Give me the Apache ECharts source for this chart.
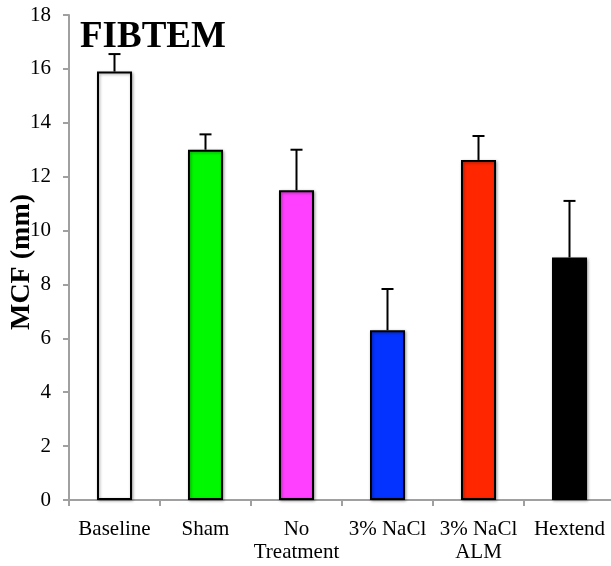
<!DOCTYPE html>
<html>
<head>
<meta charset="utf-8">
<script src="https://cdn.jsdelivr.net/npm/echarts@6/dist/echarts.min.js"></script>
<style>
  html, body { margin: 0; padding: 0; background: #fff; }
  #chart { width: 611px; height: 566px; }
</style>
</head>
<body>
<div id="chart"></div>
<script>
// FIBTEM maximum clot firmness per group, mean with upper error bar
const categories = ['Baseline', 'Sham', 'No\nTreatment', '3% NaCl', '3% NaCl\nALM', 'Hextend'];
const means = [15.9, 13.0, 11.5, 6.3, 12.62, 9.0];
const upperLimits = [16.55, 13.57, 13.0, 7.83, 13.51, 11.1];
const barColors = ['#ffffff', '#00f900', '#ff40ff', '#0433ff', '#ff2600', '#000000'];
const yTicks = { min: 0, max: 18, interval: 2 };

const serif = '"Liberation Serif", "Times New Roman", serif';

const chart = echarts.init(document.getElementById('chart'), null, { renderer: 'canvas' });

const barData = means.map((v, i) => ({
  value: v,
  itemStyle: { color: barColors[i] }
}));
const errData = means.map((v, i) => [i, v, upperLimits[i]]);

chart.setOption({
  animation: false,
  backgroundColor: '#ffffff',
  grid: {
    left: 69, top: 15, width: 546, height: 485,
    containLabel: false,
    outerBoundsMode: 'none'
  },
  graphic: [
    {
      type: 'text',
      left: 80,
      top: 19,
      style: {
        text: 'FIBTEM',
        font: 'bold 37px ' + serif,
        fill: '#000'
      }
    },
    {
      type: 'text',
      x: 22,
      y: 262,
      rotation: Math.PI / 2,
      style: {
        text: 'MCF (mm)',
        font: 'bold 28px ' + serif,
        fill: '#000',
        align: 'center',
        verticalAlign: 'middle'
      }
    }
  ],
  xAxis: {
    type: 'category',
    data: categories,
    axisLine: { lineStyle: { color: '#a0a0a0', width: 2 } },
    axisTick: { show: true, length: 6, lineStyle: { color: '#a0a0a0', width: 2 } },
    axisLabel: {
      color: '#000',
      fontFamily: serif,
      fontSize: 21,
      lineHeight: 23,
      margin: 18,
      interval: 0
    },
    splitLine: { show: false }
  },
  yAxis: {
    type: 'value',
    min: yTicks.min,
    max: yTicks.max,
    interval: yTicks.interval,
    axisLine: { show: true, lineStyle: { color: '#a0a0a0', width: 2 } },
    axisTick: { show: true, length: 6, lineStyle: { color: '#a0a0a0', width: 2 } },
    axisLabel: {
      color: '#000',
      fontFamily: serif,
      fontSize: 21,
      margin: 18
    },
    splitLine: { show: false }
  },
  series: [
    {
      type: 'bar',
      data: barData,
      barWidth: 35,
      itemStyle: {
        borderColor: '#000',
        borderWidth: 2,
        shadowColor: 'rgba(0,0,0,0.35)',
        shadowBlur: 3,
        shadowOffsetX: 1,
        shadowOffsetY: 1
      },
      z: 2
    },
    {
      type: 'custom',
      data: errData,
      z: 3,
      renderItem: function (params, api) {
        const x = api.value(0);
        const base = api.coord([x, api.value(1)]);
        const top = api.coord([x, api.value(2)]);
        const half = 6;
        const style = { stroke: '#000', lineWidth: 2 };
        return {
          type: 'group',
          children: [
            { type: 'line', shape: { x1: base[0], y1: base[1], x2: top[0], y2: top[1] }, style: style },
            { type: 'line', shape: { x1: top[0] - half, y1: top[1], x2: top[0] + half, y2: top[1] }, style: style }
          ]
        };
      }
    }
  ]
});
</script>
</body>
</html>
